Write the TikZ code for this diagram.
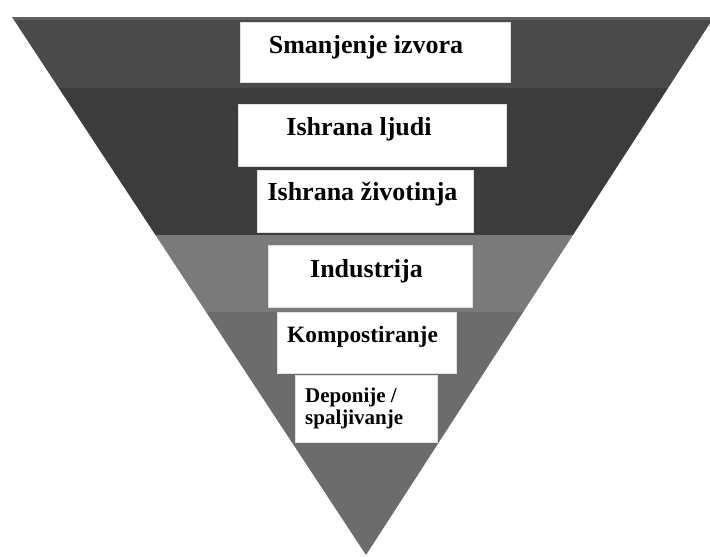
\documentclass[tikz,border=0pt]{standalone}
\usepackage{fontspec}
\setmainfont{Liberation Serif}
\definecolor{bandA}{RGB}{74,74,74}
\definecolor{bandB}{RGB}{60,60,60}
\definecolor{bandC}{RGB}{122,122,122}
\definecolor{bandD}{RGB}{108,108,108}
\tikzset{
  whitebox/.style={fill=white, draw=black!12, line width=0.8pt, inner sep=0pt, outer sep=0pt},
  lbl/.style={inner sep=0pt, anchor=base, font=\bfseries\fontsize{26}{28}\selectfont},
  lblsmall/.style={inner sep=0pt, anchor=base west, font=\bfseries\fontsize{21}{22}\selectfont},
}
\begin{document}
\begin{tikzpicture}[x=1pt,y=-1pt]
\useasboundingbox (0,0) rectangle (710,557);
\fill[white] (0,0) rectangle (710,557);
% funnel
\coordinate (tl) at (12,17);
\coordinate (tr) at (714,17);
\coordinate (apex) at (366,555);
\begin{scope}
  \clip (tl) -- (tr) -- (apex) -- cycle;
  \fill[bandA] (0,0) rectangle (720,88);
  \fill[bandB] (0,88) rectangle (720,235);
  \fill[bandC] (0,235) rectangle (720,312);
  \fill[bandD] (0,312) rectangle (720,560);
  \fill[black!45,opacity=0.35] (0,17) rectangle (720,20);
\end{scope}
% boxes
\fill[whitebox] (240,22) rectangle (510,82);
\fill[whitebox] (238,104) rectangle (506,166);
\fill[whitebox] (257,170) rectangle (473,232);
\fill[whitebox] (268,245) rectangle (472,307);
\fill[whitebox] (277,312) rectangle (456,373);
\fill[whitebox] (295,375) rectangle (437,442);
% labels
\node[lbl] (t1) at (366,53) {Smanjenje izvora};
\node[lbl] (t2) at (359,135) {Ishrana ljudi};
\node[lbl] (t3) at (362.5,200) {Ishrana životinja};
\node[lbl] (t4) at (366.5,277) {Industrija};
\node[lbl,font=\bfseries\fontsize{23.4}{25}\selectfont] (t5) at (362.5,342) {Kompostiranje};
\node[lblsmall] (t6a) at (305,402) {Deponije /};
\node[lblsmall] (t6b) at (305,424) {spaljivanje};
\end{tikzpicture}
\end{document}
